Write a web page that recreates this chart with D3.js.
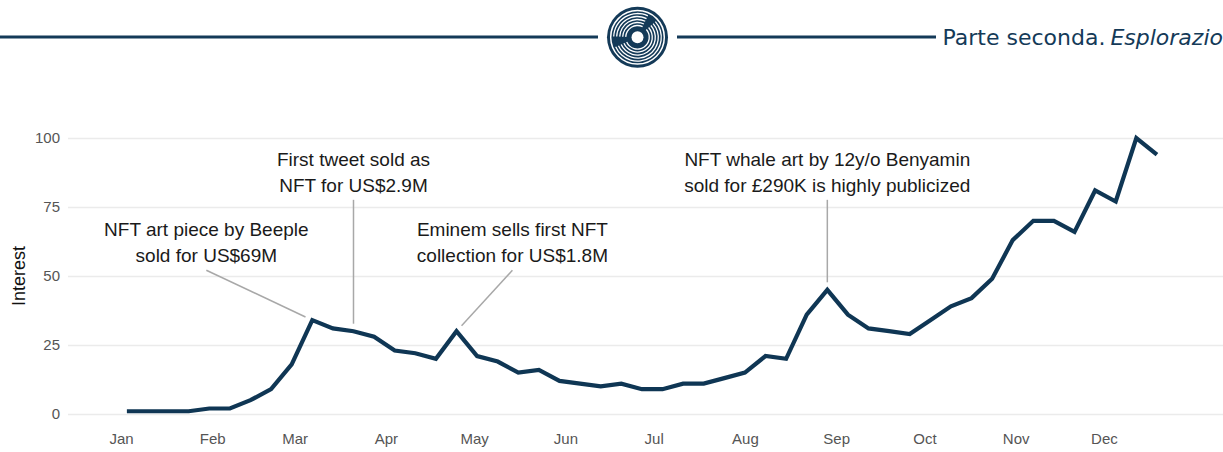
<!DOCTYPE html>
<html>
<head>
<meta charset="utf-8">
<script src="https://cdn.jsdelivr.net/npm/d3@7"></script>
<style>
  html, body { margin: 0; padding: 0; background: #ffffff; overflow: hidden; }
  svg { display: block; }
</style>
</head>
<body>
<script>
// ---------- DATA ----------
const weekDates = [
  "2021-01-03","2021-01-10","2021-01-17","2021-01-24","2021-01-31","2021-02-07","2021-02-14","2021-02-21","2021-02-28",
  "2021-03-07","2021-03-14","2021-03-21","2021-03-28","2021-04-04","2021-04-11","2021-04-18","2021-04-25",
  "2021-05-02","2021-05-09","2021-05-16","2021-05-23","2021-05-30","2021-06-06","2021-06-13","2021-06-20","2021-06-27",
  "2021-07-04","2021-07-11","2021-07-18","2021-07-25","2021-08-01","2021-08-08","2021-08-15","2021-08-22","2021-08-29",
  "2021-09-05","2021-09-12","2021-09-19","2021-09-26","2021-10-03","2021-10-10","2021-10-17","2021-10-24","2021-10-31",
  "2021-11-07","2021-11-14","2021-11-21","2021-11-28","2021-12-05","2021-12-12","2021-12-19"
];
const interest = [
  1,1,1,1,2,2,5,9,18,
  34,31,30,28,23,22,20,30,
  21,19,15,16,12,11,10,11,9,
  9,11,11,13,15,21,20,36,45,
  36,31,30,29,34,39,42,49,63,
  70,70,66,81,77,100,94
];
const monthLabels = ["Jan","Feb","Mar","Apr","May","Jun","Jul","Aug","Sep","Oct","Nov","Dec"];
const yTicks = [0, 25, 50, 75, 100];
const yTitle = "Interest";

const annoPointDates = ["2021-03-07", "2021-03-21", "2021-04-25", "2021-08-29"];
const annoPointValues = [34, 30, 30, 45];
const annoLabelDates = ["2021-01-30", "2021-03-21", "2021-05-14", "2021-08-29"];
const annoLabelValues = [55, 80.5, 55, 80.5];
const annoLines = [
  ["NFT art piece by Beeple", "sold for US$69M"],
  ["First tweet sold as", "NFT for US$2.9M"],
  ["Eminem sells first NFT", "collection for US$1.8M"],
  ["NFT whale art by 12y/o Benyamin", "sold for £290K is highly publicized"]
];

const headerText1 = "Parte seconda.";
const headerText2 = "Esplorazione";

// ---------- LAYOUT ----------
const W = 1223, H = 452;
const navy = "#143a58";
const lineColor = "#0f3654";
const parse = d3.utcParse("%Y-%m-%d");

const svg = d3.select("body").append("svg").attr("width", W).attr("height", H);

// Header
const hdr = svg.append("g");
hdr.append("line").attr("x1", 0).attr("x2", 598).attr("y1", 37).attr("y2", 37)
  .attr("stroke", navy).attr("stroke-width", 3);
hdr.append("line").attr("x1", 677).attr("x2", 936).attr("y1", 37).attr("y2", 37)
  .attr("stroke", navy).attr("stroke-width", 3);
const emb = hdr.append("g").attr("transform", "translate(637.5,37.3)");
emb.append("circle").attr("r", 30.5).attr("fill", navy);
emb.append("circle").attr("r", 26.8).attr("fill", "none").attr("stroke", "#ffffff").attr("stroke-width", 1.5);
const gaps = [[0.45, 0.85], [4.3, 4.75]];
[23.8, 20.8, 17.8, 14.8, 11.8].forEach((r, i) => {
  const segs = [[gaps[0][1], gaps[1][0]], [gaps[1][1], gaps[0][0] + 2 * Math.PI]];
  segs.forEach(s => {
    const a = d3.arc().innerRadius(r - 0.65).outerRadius(r + 0.65).startAngle(s[0]).endAngle(s[1]);
    emb.append("path").attr("d", a()).attr("fill", "#ffffff");
  });
});
emb.append("circle").attr("r", 6).attr("fill", "#ffffff");

const ht = hdr.append("text").attr("x", 942.5).attr("y", 44.5)
  .attr("font-family", "'DejaVu Sans', sans-serif").attr("font-size", 22).attr("fill", navy);
ht.append("tspan").text(headerText1);
ht.append("tspan").attr("dx", 5).attr("font-style", "italic").text(headerText2);

// Scales
const x = d3.scaleUtc()
  .domain([parse("2021-01-01"), parse("2022-01-01")])
  .range([121, 121 + 365 * 2.943]);
const y = d3.scaleLinear().domain([0, 100]).range([414, 138]);

// Grid
const grid = svg.append("g").attr("transform", "translate(68,0)")
  .call(d3.axisLeft(y).tickValues(yTicks).tickSize(-(W - 68)).tickFormat(""));
grid.select(".domain").remove();
grid.selectAll("line").attr("stroke", "#ebebeb").attr("stroke-width", 1.3);

// Y axis labels
const ya = svg.append("g").attr("transform", "translate(68,0)")
  .call(d3.axisLeft(y).tickValues(yTicks).tickSize(0).tickPadding(8));
ya.select(".domain").remove();
ya.selectAll("text").attr("font-family", "'Liberation Sans', Arial, sans-serif")
  .attr("font-size", 15).attr("fill", "#555555");

// X axis labels
const monthDates = d3.utcMonth.range(parse("2021-01-01"), parse("2022-01-01"));
const xa = svg.append("g").attr("transform", "translate(0,414)")
  .call(d3.axisBottom(x).tickValues(monthDates).tickSize(0).tickPadding(19)
    .tickFormat((d, i) => monthLabels[i]));
xa.select(".domain").remove();
xa.selectAll("text").attr("font-family", "'Liberation Sans', Arial, sans-serif")
  .attr("font-size", 15).attr("fill", "#555555");

// Y title
svg.append("text").attr("transform", "translate(25,276) rotate(-90)")
  .attr("text-anchor", "middle")
  .attr("font-family", "'Liberation Sans', Arial, sans-serif")
  .attr("font-size", 18).attr("fill", "#111111").text(yTitle);

// Annotation leader segments
annoPointDates.forEach((pd, i) => {
  const px = x(parse(pd)), py = y(annoPointValues[i]);
  const lx = x(parse(annoLabelDates[i])), ly = y(annoLabelValues[i]) + 8;
  const dx = px - lx, dy = py - ly, len = Math.hypot(dx, dy);
  const ex = px - dx / len * 7.5, ey = py - dy / len * 7.5;
  svg.append("line").attr("x1", lx).attr("y1", ly).attr("x2", ex).attr("y2", ey)
    .attr("stroke", "#a8a8a8").attr("stroke-width", 1.5);
});

// Line
const data = weekDates.map((d, i) => ({ date: parse(d), value: interest[i] }));
svg.append("path").datum(data)
  .attr("fill", "none").attr("stroke", lineColor).attr("stroke-width", 4.2)
  .attr("stroke-linejoin", "miter").attr("stroke-linecap", "butt")
  .attr("d", d3.line().x(d => x(d.date)).y(d => y(d.value)));

// Annotation texts
annoLines.forEach((lines, i) => {
  const lx = x(parse(annoLabelDates[i])), ly = y(annoLabelValues[i]);
  const t = svg.append("text").attr("text-anchor", "middle")
    .attr("font-family", "'Liberation Sans', Arial, sans-serif")
    .attr("font-size", 19).attr("fill", "#1a1a1a");
  lines.forEach((ln, j) => {
    t.append("tspan").attr("x", lx).attr("y", ly - (lines.length - 1 - j) * 26).text(ln);
  });
});
</script>
</body>
</html>
